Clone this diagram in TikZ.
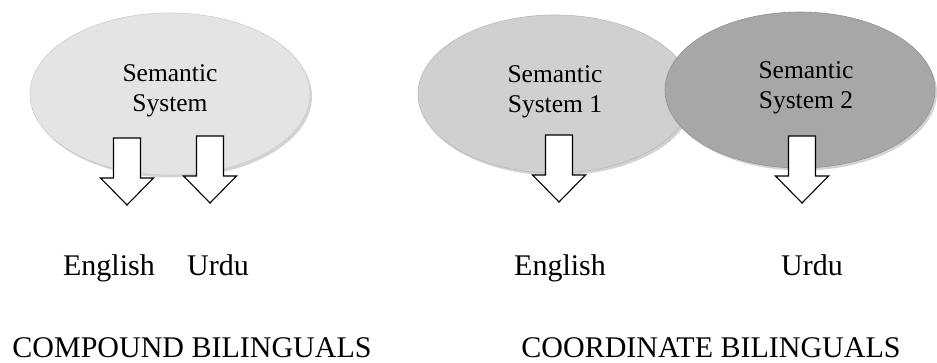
\documentclass[tikz,border=0pt]{standalone}
\usepackage{fontspec}
\setmainfont{Liberation Serif}
\usepackage{tikz}
\usetikzlibrary{shapes.geometric, shadows, positioning}
\definecolor{semlight}{HTML}{E4E4E4}
\definecolor{semmid}{HTML}{D0D0D0}
\definecolor{semdark}{HTML}{A7A7A7}

\begin{document}
\begin{tikzpicture}[x=1pt, y=1pt, line join=miter]
   % Styles
   \tikzset{
    sem/.style={ellipse, draw=gray!60, line width=0.6pt, inner sep=0pt,
      drop shadow={shadow xshift=2pt, shadow yshift=-2.5pt, opacity=0.35}},
    semtext/.style={align=center, font=\fontsize{25.5}{30}\selectfont},
    lang/.style={anchor=base, font=\fontsize{30}{36}\selectfont},
    title/.style={anchor=base, font=\fontsize{30}{36}\selectfont},
    arrowbox/.style={draw=black, fill=white, line width=1.1pt},
    downarrow/.pic={
      \draw[arrowbox] (-13.5,0) -- (13.5,0) -- (13.5,-40) -- (26.5,-40)
        -- (0,-67) -- (-26.5,-40) -- (-13.5,-40) -- cycle;}
   }
  \useasboundingbox (0,0) rectangle (937,363);
  % Ellipses
  \node[sem, fill=semlight, draw=gray!40, minimum width=280, minimum height=162] (semsys) at (170,269) {};
  \node[sem, fill=semmid, draw=gray!55, minimum width=274, minimum height=158] (semone) at (555,269) {};
  \node[sem, fill=semdark, draw=gray!85, minimum width=270, minimum height=156] (semtwo) at (800,273) {};
  \node[semtext] (semsyslbl) at (170,272) {Semantic\\System};
  \node[semtext] (semonelbl) at (555,271) {Semantic\\System 1};
  \node[semtext] (semtwolbl) at (806,275) {Semantic\\System 2};
  % Arrows
  \pic at (127,225) {downarrow};
  \pic at (210,227) {downarrow};
  \pic at (559,228) {downarrow};
  \pic at (802,227) {downarrow};
  % Languages
  \node[lang] (engA) at (109,87) {English};
  \node[lang] (urdA) at (218,87) {Urdu};
  \node[lang] (engB) at (560,87) {English};
  \node[lang] (urdB) at (812,87) {Urdu};
  % Titles
  \node[title] (compound) at (192,5) {COMPOUND BILINGUALS};
  \node[title] (coordinate) at (711,5) {COORDINATE BILINGUALS};
\end{tikzpicture}
\end{document}
